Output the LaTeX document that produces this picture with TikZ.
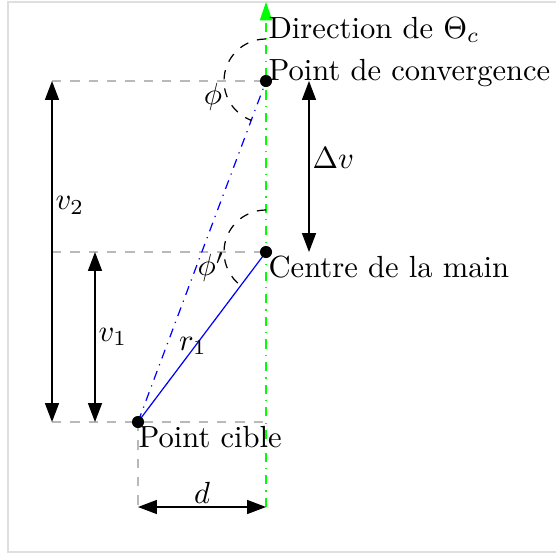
\documentclass[tikz,border=0pt]{standalone}
\usepackage{amsmath,amssymb}
\usetikzlibrary{arrows.meta,calc}

\begin{document}
\begin{tikzpicture}[x=0.327pt,y=-0.327pt,
  cote/.style={{Triangle[length=6.2pt,width=4.6pt]}-{Triangle[length=6.2pt,width=4.6pt]}},
  rappel/.style={gray!55,dashed},
  angle/.style={dashed},
  point/.style={fill,circle,inner sep=1.4pt}]
\useasboundingbox (0,0) rectangle (556,556);
\draw[gray!25] (8,2) rectangle (580,552);
\coordinate (P) at (138,422); \coordinate (C) at (266,252); \coordinate (V) at (266,81);
\coordinate (T) at (266,2); \coordinate (B) at (266,507); \coordinate (D) at (138,507);
% lignes de rappel
\draw[rappel] (52,81)--(V); \draw[rappel] (52,252)--(C); \draw[rappel] (52,422)--(P)--(266,422);
\draw[rappel] (P)--(D);
% axe
\draw[green,dash dot,-{Triangle[length=6pt,width=4pt]}] (B)--(T);
\draw[blue] (P)--(C);
\draw[blue,dash dot] (P)--(V);
\node (r) at (193,346) {$r_1$};
% angles
\draw[angle] ($(V)+(0,-42)$) arc (-90:-249.4:42);
\draw[angle] ($(C)+(0,-42)$) arc (-90:-233:42);
\node (phi) at (213,97) {$\phi$}; \node (phip) at (211,267) {$\phi'$};
% cotes
\draw[cote] (52,81)--(52,422) node[pos=0.365,right,inner sep=1pt] (v2) {$v_2$};
\draw[cote] (95,252)--(95,422) node[midway,right,inner sep=1pt] (v1) {$v_1$};
\draw[cote] (309,81)--(309,252) node[pos=0.45,right,inner sep=1pt] (dv) {$\Delta v$};
\draw[cote] (D)--(B) node[midway,above,inner sep=1pt] (d) {$d$};
\foreach \p in {P,C,V} \node[point] at (\p) {};
\node[anchor=west,inner sep=0pt] (dir) at (268,30) {Direction de $\Theta_c$};
\node[anchor=west,inner sep=0pt] (conv) at (268,73) {Point de convergence};
\node[anchor=west,inner sep=0pt] (main) at (268,267) {Centre de la main};
\node[anchor=west,inner sep=0pt] (cible) at (138,437) {Point cible};
\end{tikzpicture}
\end{document}
